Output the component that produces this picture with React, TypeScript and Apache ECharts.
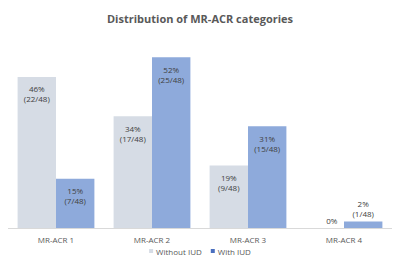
import React, { useEffect, useRef } from "react";
import * as echarts from "echarts";

const categories = ["MR-ACR 1", "MR-ACR 2", "MR-ACR 3", "MR-ACR 4"];
const withoutIUD = [46, 34, 19, 0];
const withoutCounts = ["22/48", "17/48", "9/48", ""];
const withIUD = [15, 52, 31, 2];
const withCounts = ["7/48", "25/48", "15/48", "1/48"];

const FONT = "'Open Sans', 'Liberation Sans', sans-serif";

export default function App() {
  const ref = useRef<HTMLDivElement>(null);
  useEffect(() => {
    if (!ref.current) return;
    const chart = echarts.init(ref.current, null, { renderer: "svg" });
    const labelBase = {
      show: true,
      color: "#404040",
      fontSize: 8,
      lineHeight: 10,
      fontFamily: FONT,
    };
    const mk = (vals: number[], counts: string[], color: string) =>
      vals.map((v, i) => {
        const text = counts[i] ? `${v}%\n(${counts[i]})` : `${v}%`;
        const small = v < 10;
        return {
          value: v,
          label: {
            ...labelBase,
            position: small ? "top" : "insideTop",
            distance: small ? 3 : 7,
            offset: v === 0 ? [7, 0] : [0, 0],
            formatter: () => text,
          },
        };
      });
    chart.setOption({
      animation: false,
      textStyle: { fontFamily: FONT },
      title: {
        text: "Distribution of MR-ACR categories",
        left: "center",
        top: 8,
        textStyle: {
          fontSize: 11,
          fontWeight: "bold",
          color: "#595959",
          fontFamily: FONT,
        },
      },
      legend: {
        bottom: 6,
        left: "center",
        itemWidth: 4,
        itemHeight: 4,
        itemGap: 9,
        icon: "rect",
        textStyle: { fontSize: 8, color: "#595959", fontFamily: FONT, padding: [0, 0, 0, -2] },
        data: [
          { name: "Without IUD", itemStyle: { color: "#d6dce5" } },
          { name: "With IUD", itemStyle: { color: "#4a6fbf" } },
        ],
      },
      grid: { left: 8, right: 8, top: 31, bottom: 38, containLabel: false },
      xAxis: {
        type: "category",
        data: categories,
        axisLine: { lineStyle: { color: "#d9d9d9" } },
        axisTick: { show: false },
        axisLabel: { fontSize: 8, color: "#595959", margin: 7, fontFamily: FONT },
      },
      yAxis: {
        type: "value",
        min: 0,
        max: 60,
        show: false,
        splitLine: { show: false },
      },
      series: [
        {
          name: "Without IUD",
          type: "bar",
          barGap: "0%",
          barCategoryGap: "20%",
          itemStyle: { color: "#d6dce5" },
          data: mk(withoutIUD, withoutCounts, "#d6dce5"),
        },
        {
          name: "With IUD",
          type: "bar",
          barGap: "0%",
          barCategoryGap: "20%",
          itemStyle: { color: "#8eaadb" },
          data: mk(withIUD, withCounts, "#8eaadb"),
        },
      ],
    });
    return () => chart.dispose();
  }, []);
  return <div ref={ref} style={{ width: 400, height: 266, margin: -8 }} />;
}
